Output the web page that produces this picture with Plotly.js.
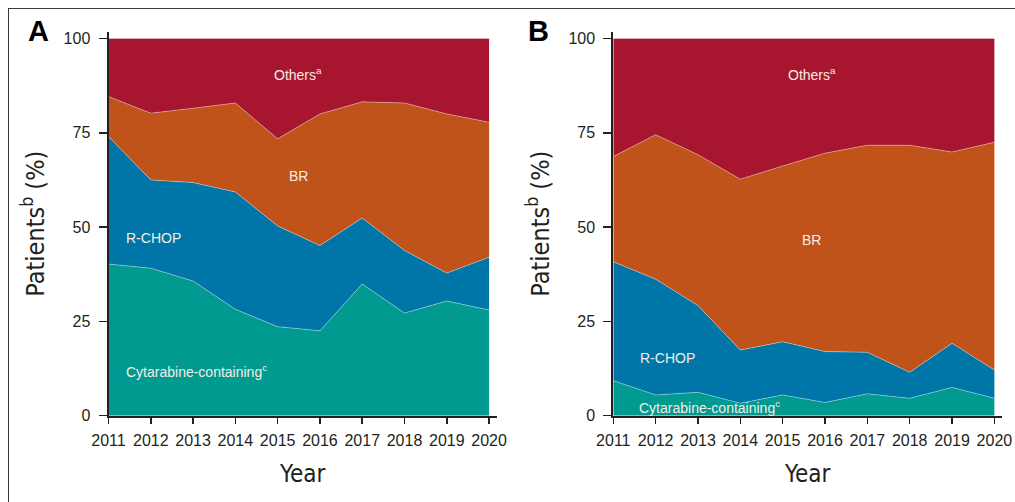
<!DOCTYPE html>
<html>
<head>
<meta charset="utf-8">
<script src="https://cdn.plot.ly/plotly-3.0.1.min.js"></script>
<style>
  html, body { margin: 0; padding: 0; background: #ffffff; }
  #wrap { position: relative; width: 1015px; height: 502px; overflow: hidden; }
  #frame { position: absolute; left: 8px; top: 8px; width: 1100px; height: 600px;
           border-left: 1.3px solid #3a3a3a; border-top: 1.3px solid #3a3a3a; pointer-events: none; }
  #chart { position: absolute; left: 0; top: 0; width: 1015px; height: 502px; }
</style>
</head>
<body>
<div id="wrap">
  <div id="chart"></div>
  <div id="frame"></div>
</div>
<script>
// ---- Data (percent of patients per year) ----
const years = [2011, 2012, 2013, 2014, 2015, 2016, 2017, 2018, 2019, 2020];
const seriesNames = ['Cytarabine-containing', 'R-CHOP', 'BR', 'Others'];

// Panel A
const cytarabineA = [40.2, 39.1, 35.7, 28.2, 23.6, 22.5, 34.9, 27.2, 30.4, 28.0];
const rchopA      = [33.8, 23.4, 26.1, 31.1, 26.7, 22.6, 17.5, 16.6, 7.4, 14.0];
const brA         = [10.6, 17.7, 19.7, 23.6, 23.1, 34.9, 30.8, 39.1, 42.2, 35.8];
const othersA     = [15.4, 19.8, 18.5, 17.1, 26.6, 20.0, 16.8, 17.1, 20.0, 22.2];

// Panel B
const cytarabineB = [9.3, 5.5, 6.2, 3.3, 5.5, 3.5, 5.8, 4.6, 7.5, 4.6];
const rchopB      = [31.5, 30.7, 23.0, 14.1, 14.1, 13.5, 11.0, 6.9, 11.7, 7.5];
const brB         = [27.9, 38.3, 40.0, 45.3, 46.6, 52.6, 54.9, 60.2, 50.7, 60.4];
const othersB     = [31.3, 25.5, 30.8, 37.3, 33.8, 30.4, 28.3, 28.3, 30.1, 27.5];

const yTickVals = [0, 25, 50, 75, 100];
const panelLetters = ['A', 'B'];

// ---- Styles ----
const colors = ['#009A90', '#0075A8', '#C0531A', '#A8152E'];
const ink = '#231f20';
const fontFam = '"Liberation Sans", Arial, Helvetica, sans-serif';
const narrowFam = '"DejaVu Sans Condensed", "Liberation Sans Narrow", "Liberation Sans", Arial, sans-serif';

function makeTraces(vals, xa, ya, group) {
  return vals.map((v, i) => ({
    type: 'scatter', mode: 'lines', x: years, y: v, name: seriesNames[i],
    stackgroup: group, xaxis: xa, yaxis: ya,
    fillcolor: colors[i],
    line: { color: 'rgba(255,255,255,0.45)', width: 0.8, shape: 'linear' },
    hoverinfo: 'x+y+name', showlegend: false
  }));
}

const data = [
  ...makeTraces([cytarabineA, rchopA, brA, othersA], 'x', 'y', 'A'),
  ...makeTraces([cytarabineB, rchopB, brB, othersB], 'x2', 'y2', 'B')
];

function xAxis(domain, anchor) {
  return {
    domain: domain, anchor: anchor, range: [2011, 2020.18],
    tickvals: years, ticktext: years.map(String),
    showgrid: false, zeroline: false, showline: true, linecolor: ink, linewidth: 2,
    ticks: 'outside', ticklen: 6, tickwidth: 1.5, tickcolor: ink,
    tickfont: { family: fontFam, size: 16, color: ink }, ticklabelstandoff: 3,
    title: { text: 'Year', font: { family: narrowFam, size: 24, color: ink }, standoff: 17 },
    fixedrange: true
  };
}
function yAxis(anchor) {
  return {
    domain: [0.1719, 0.9369], anchor: anchor, range: [0, 101.8],
    tickvals: yTickVals, ticktext: yTickVals.map(String),
    showgrid: false, zeroline: false, showline: true, linecolor: ink, linewidth: 2,
    ticks: 'outside', ticklen: 8, tickwidth: 1.5, tickcolor: ink,
    tickfont: { family: fontFam, size: 16, color: ink }, ticklabelstandoff: 5,
    title: { text: 'Patients<sup>b</sup> (%)', font: { family: narrowFam, size: 25, color: ink }, standoff: 12 },
    fixedrange: true
  };
}

const labelFont = { family: fontFam, size: 14, color: '#f6ece4' };
function lbl(xref, yref, x, y, text, anchor) {
  return { xref: xref, yref: yref, x: x, y: y, text: text, showarrow: false,
           xanchor: anchor, yanchor: 'middle', font: labelFont };
}

const annotations = [
  lbl('x', 'y', 2015.48, 90.6, 'Others<sup>a</sup>', 'center'),
  lbl('x', 'y', 2015.49, 63.6, 'BR', 'center'),
  lbl('x', 'y', 2011.37, 47.1, 'R-CHOP', 'left'),
  lbl('x', 'y', 2011.37, 11.9, 'Cytarabine-containing<sup>c</sup>', 'left'),
  lbl('x2', 'y2', 2015.70, 90.6, 'Others<sup>a</sup>', 'center'),
  lbl('x2', 'y2', 2015.69, 46.6, 'BR', 'center'),
  lbl('x2', 'y2', 2011.59, 15.2, 'R-CHOP', 'left'),
  lbl('x2', 'y2', 2011.55, 2.2, 'Cytarabine-containing<sup>c</sup>', 'left'),
  { xref: 'paper', yref: 'paper', x: 38 / 1015, y: 1 - 31 / 502, text: '<b>' + panelLetters[0] + '</b>',
    showarrow: false, xanchor: 'center', yanchor: 'middle', font: { family: fontFam, size: 29, color: '#000' } },
  { xref: 'paper', yref: 'paper', x: 538 / 1015, y: 1 - 31 / 502, text: '<b>' + panelLetters[1] + '</b>',
    showarrow: false, xanchor: 'center', yanchor: 'middle', font: { family: fontFam, size: 29, color: '#000' } }
];

const layout = {
  width: 1015, height: 502,
  margin: { l: 0, r: 0, t: 0, b: 0 },
  paper_bgcolor: '#ffffff', plot_bgcolor: '#ffffff',
  showlegend: false,
  xaxis: xAxis([108.5 / 1015, 496.7 / 1015], 'y'),
  yaxis: yAxis('x'),
  xaxis2: xAxis([613.3 / 1015, 1002 / 1015], 'y2'),
  yaxis2: yAxis('x2'),
  annotations: annotations
};

Plotly.newPlot('chart', data, layout, { displayModeBar: false, staticPlot: true });
</script>
</body>
</html>
